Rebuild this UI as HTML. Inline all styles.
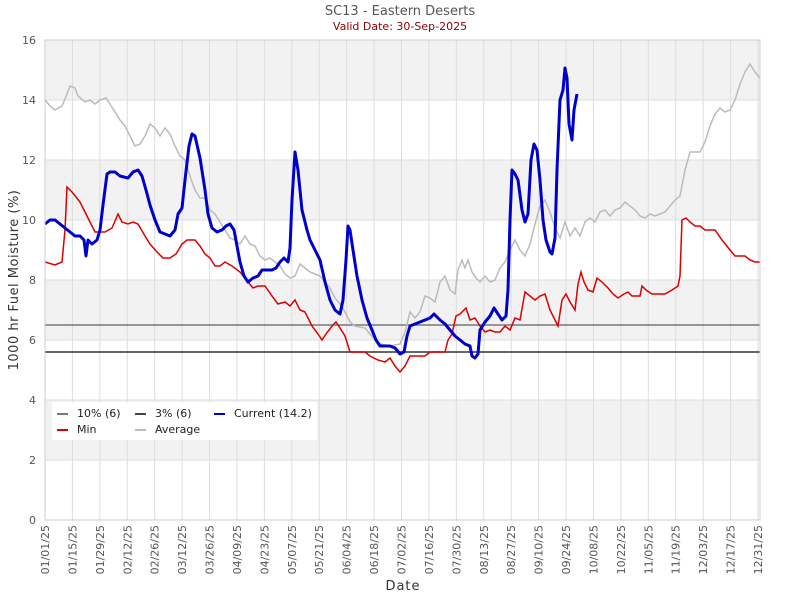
<!DOCTYPE html>
<html><head><meta charset="utf-8"><style>body{margin:0;background:#fff}svg{display:block}text{font-family:"DejaVu Sans","Liberation Sans",sans-serif}</style></head>
<body>
<svg width="800" height="600" xmlns="http://www.w3.org/2000/svg">
<text x="400" y="15" text-anchor="middle" font-size="13" fill="#555">SC13 - Eastern Deserts</text>
<text x="400" y="30" text-anchor="middle" font-size="11" fill="#8b0000">Valid Date: 30-Sep-2025</text>
<rect x="45" y="40" width="715" height="480" fill="#fff"/>
<rect x="45" y="40" width="715" height="60" fill="#f2f2f2"/>
<rect x="45" y="160" width="715" height="60" fill="#f2f2f2"/>
<rect x="45" y="280" width="715" height="60" fill="#f2f2f2"/>
<rect x="45" y="400" width="715" height="60" fill="#f2f2f2"/>
<g stroke="#ddd" stroke-width="1" id="grid"></g>
<g font-size="11" fill="#555" text-anchor="end">
<text x="36" y="524">0</text><text x="36" y="464">2</text><text x="36" y="404">4</text><text x="36" y="344">6</text><text x="36" y="284">8</text><text x="36" y="224">10</text><text x="36" y="164">12</text><text x="36" y="104">14</text><text x="36" y="44">16</text>
</g>
<g id="xt" font-size="11" fill="#555"></g>
<line x1="45" y1="325" x2="760" y2="325" stroke="#777" stroke-width="1.5"/>
<line x1="45" y1="352" x2="760" y2="352" stroke="#333" stroke-width="1.5"/>
<polyline fill="none" stroke="#bbb" stroke-width="1.5" points="45,100 50,106 55,110 62,106 67,94 70,86 75,88 78,96 85,102 90,100 95,104 100,100 106,98 110,104 115,112 120,120 125,126 130,136 135,146 140,144 145,136 150,124 155,128 160,136 165,128 170,134 175,146 180,156 185,160 190,176 195,190 200,198 205,198 210,210 215,214 220,222 225,230 230,238 235,240 240,244 245,236 250,244 255,246 260,256 265,260 270,258 275,262 280,266 285,274 290,278 295,276 300,264 305,268 310,272 315,274 320,276 325,282 330,288 335,298 340,304 345,312 350,322 355,326 365,328 370,334 375,340 380,344 390,346 400,344 405,332 410,312 415,318 420,312 425,296 430,298 435,302 440,282 445,276 450,290 455,294 458,270 462,260 465,268 468,260 472,272 476,278 480,282 485,276 490,282 495,280 500,268 505,262 510,250 515,240 520,250 525,256 530,244 535,224 540,206 545,200 550,212 555,228 560,238 565,222 570,236 575,228 580,236 585,222 590,218 595,222 600,212 605,210 610,216 615,210 620,208 625,202 630,206 635,210 640,216 645,218 650,214 655,216 660,214 665,212 670,206 675,200 680,196 685,170 690,152 700,152 705,142 710,126 715,114 720,108 725,112 730,110 735,100 740,84 745,72 750,64 755,72 760,78"/>
<polyline fill="none" stroke="#dd0000" stroke-width="1.5" points="45,262 55,265 62,262 65,230 67,187 72,192 80,202 88,218 95,232 105,232 112,228 118,214 122,222 128,224 133,222 138,224 145,236 150,244 157,252 163,258 170,258 176,254 182,244 187,240 195,240 200,246 205,254 210,258 215,266 220,266 225,262 232,266 240,272 248,282 253,288 258,286 265,286 272,296 278,304 285,302 290,306 295,300 300,310 305,312 312,326 318,334 322,340 326,334 332,326 336,322 340,328 345,336 350,352 355,352 365,352 370,356 378,360 385,362 390,358 395,366 400,372 405,366 410,356 418,356 425,356 430,352 445,352 448,340 452,334 456,316 460,314 466,308 470,320 475,318 480,326 485,332 490,330 495,332 500,332 505,326 510,330 515,318 520,320 525,292 530,296 535,300 540,296 545,294 550,310 555,320 558,326 562,300 566,294 570,302 575,310 578,284 581,272 584,282 588,290 593,292 597,278 602,282 608,288 613,294 618,298 624,294 628,292 632,296 640,296 642,286 646,290 652,294 665,294 672,290 678,286 680,276 682,220 686,218 690,222 695,226 700,226 705,230 715,230 722,240 730,250 735,256 745,256 750,260 755,262 760,262"/>
<polyline fill="none" stroke="#0000cc" stroke-width="3" stroke-linejoin="round" points="45,224 50,220 55,220 60,224 65,228 70,232 75,236 80,236 84,240 86,256 88,240 92,244 97,240 100,230 103,205 107,174 110,172 115,172 120,176 128,178 133,172 138,170 142,176 146,190 150,205 155,220 160,232 165,234 170,236 175,230 178,214 182,208 185,180 189,146 192,134 195,136 200,158 205,190 208,214 212,228 217,232 222,230 226,226 230,224 234,230 237,246 240,262 244,276 248,282 253,278 258,276 262,270 267,270 272,270 276,268 280,262 284,258 288,262 290,248 292,200 295,152 298,170 302,210 307,230 310,240 315,250 320,260 325,282 330,300 335,310 340,314 343,300 346,260 348,226 350,230 353,250 357,276 362,300 367,318 372,330 376,340 380,346 385,346 390,346 395,348 400,354 404,352 407,336 410,326 415,324 420,322 425,320 430,318 434,314 440,320 445,324 450,330 455,336 460,340 465,344 470,346 472,356 475,358 478,354 480,330 485,322 490,316 494,308 498,314 502,320 506,316 508,290 510,220 512,170 515,174 518,180 522,210 525,222 528,214 531,160 534,144 537,150 540,180 543,220 546,240 550,252 552,254 555,238 557,170 560,100 563,90 565,68 567,78 569,124 572,140 574,110 577,94"/>
<rect x="45" y="40" width="715" height="480" fill="none" stroke="#ccc"/>
<rect x="52" y="402" width="265" height="38" fill="#fff"/>
<g font-size="11" fill="#222">
<line x1="57" y1="414" x2="68" y2="414" stroke="#777" stroke-width="2"/><text x="77" y="417">10% (6)</text>
<line x1="135" y1="414" x2="146" y2="414" stroke="#444" stroke-width="2"/><text x="155" y="417">3% (6)</text>
<line x1="214" y1="414" x2="225" y2="414" stroke="#0000cc" stroke-width="2"/><text x="234" y="417">Current (14.2)</text>
<line x1="57" y1="430" x2="68" y2="430" stroke="#dd0000" stroke-width="2"/><text x="77" y="433">Min</text>
<line x1="135" y1="430" x2="146" y2="430" stroke="#bbb" stroke-width="2"/><text x="155" y="433">Average</text>
</g>
<text x="403" y="590" text-anchor="middle" font-size="13" fill="#333" font-family="DejaVu Sans Mono" letter-spacing="1">Date</text>
<text transform="translate(18,280) rotate(-90)" text-anchor="middle" font-size="13" fill="#333" font-family="DejaVu Sans Mono" letter-spacing="0.5">1000 hr Fuel Moisture (%)</text>
</svg>
<script>
var labels=["01/01/25","01/15/25","01/29/25","02/12/25","02/26/25","03/12/25","03/26/25","04/09/25","04/23/25","05/07/25","05/21/25","06/04/25","06/18/25","07/02/25","07/16/25","07/30/25","08/13/25","08/27/25","09/10/25","09/24/25","10/08/25","10/22/25","11/05/25","11/19/25","12/03/25","12/17/25","12/31/25"];
var g=document.getElementById('grid'),xt=document.getElementById('xt'),ns="http://www.w3.org/2000/svg";
var hs=[100,160,220,280,340,400,460];
hs.forEach(function(y){var l=document.createElementNS(ns,'line');l.setAttribute('x1',45);l.setAttribute('x2',760);l.setAttribute('y1',y);l.setAttribute('y2',y);g.appendChild(l);});
labels.forEach(function(s,i){var d=i<26?i*14:364;var x=45+d*713/364;
var l=document.createElementNS(ns,'line');l.setAttribute('x1',x);l.setAttribute('x2',x);l.setAttribute('y1',40);l.setAttribute('y2',520);g.appendChild(l);
var t=document.createElementNS(ns,'text');t.setAttribute('transform','translate('+(x+4)+',525) rotate(-90)');t.setAttribute('text-anchor','end');t.textContent=s;xt.appendChild(t);});
</script>
</body></html>
